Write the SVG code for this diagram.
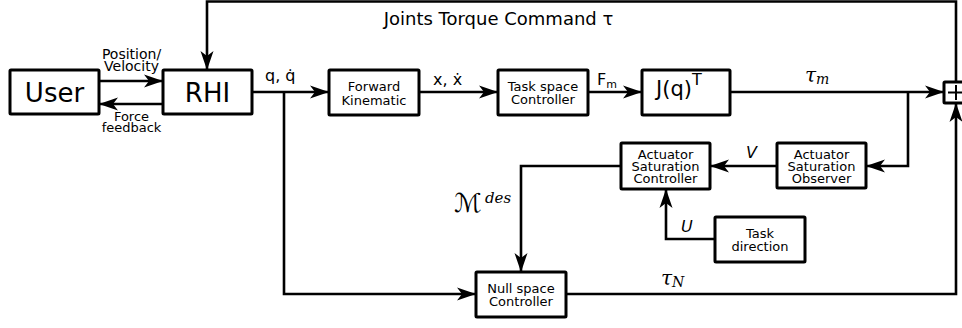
<svg xmlns="http://www.w3.org/2000/svg" width="962" height="328" viewBox="0 0 962 328">
<defs>
<marker id="ah" markerUnits="userSpaceOnUse" markerWidth="20" markerHeight="14" refX="19" refY="6.5" orient="auto" overflow="visible">
<path d="M19,6.5 L0,0 L5,6.5 L0,13 Z" fill="#000"/>
</marker>
<style>
.box{fill:#fff;stroke:#000;stroke-width:3}
.ln{fill:none;stroke:#000;stroke-width:2.6;marker-end:url(#ah)}
.pl{fill:none;stroke:#000;stroke-width:2}
text{font-family:"DejaVu Sans",sans-serif;fill:#000}
.t{font-size:13px;text-anchor:middle}
.big{font-size:26px;text-anchor:middle}
.lab{font-size:16px}
.it{font-style:italic;font-size:16px}
.math{font-family:"DejaVu Serif",serif;font-style:italic}
</style>
</defs>
<rect width="962" height="328" fill="#fff"/>
<g id="connectors">
<path class="ln" d="M956,82 V1.5 H207 V70"/>
<path class="ln" d="M99,81 H163"/>
<path class="ln" d="M163,104 H99"/>
<path class="ln" d="M252,92 H329"/>
<path class="ln" d="M284,92 V294 H476"/>
<path class="ln" d="M419,92 H498"/>
<path class="ln" d="M588,92 H642"/>
<path class="ln" d="M730,92 H944"/>
<path class="ln" d="M908,92 V166 H866"/>
<path class="ln" d="M777,166 H710"/>
<path class="ln" d="M621,166 H521 V272"/>
<path class="ln" d="M715,239 H666 V189"/>
<path class="ln" d="M566,294 H956 V103"/>
</g>
<g id="labels">
<text x="498.5" y="25" style="font-size:18px;text-anchor:middle">Joints Torque Command τ</text>
<text x="131.5" y="59" style="font-size:14px;text-anchor:middle">Position/</text>
<text x="131.5" y="71" style="font-size:14px;text-anchor:middle">Velocity</text>
<text x="131.5" y="121" style="font-size:13px;text-anchor:middle">Force</text>
<text x="131.5" y="132" style="font-size:13px;text-anchor:middle">feedback</text>
<text class="lab" x="265" y="81">q, q̇</text>
<text class="lab" x="433" y="85">x, ẋ</text>
<text class="lab" x="597" y="85">F<tspan style="font-size:11px" dy="3">m</tspan></text>
<text class="math" x="805" y="82" style="font-size:20px">τ<tspan style="font-size:14px" dy="2">m</tspan></text>
<text class="math" x="661" y="285" style="font-size:20px">τ<tspan style="font-size:14px" dy="2">N</tspan></text>
<text class="it" x="746" y="158">V</text>
<text class="it" x="681" y="232">U</text>
<text x="454" y="212" style="font-size:26px;font-family:'DejaVu Sans',sans-serif">ℳ</text>
<text class="math" x="485" y="203" style="font-size:15px">des</text>
</g>
<g id="user"><rect class="box" x="10" y="70" width="89" height="44" rx="1"/><text class="big" x="54.5" y="101.5">User</text></g>
<g id="rhi"><rect class="box" x="163" y="70" width="89" height="44" rx="1"/><text class="big" x="207.5" y="101.5">RHI</text></g>
<g id="forward-kinematic"><rect class="box" x="329" y="70" width="90" height="45" rx="1"/><text class="t" x="374" y="91">Forward</text><text class="t" x="374" y="104.5">Kinematic</text></g>
<g id="task-space-controller"><rect class="box" x="498" y="70" width="90" height="45" rx="1"/><text class="t" x="543" y="90.5">Task space</text><text class="t" x="543" y="103.5">Controller</text></g>
<g id="jacobian"><rect class="box" x="642" y="70" width="88" height="45" rx="1"/><text x="656" y="96" style="font-size:21px">J(q)<tspan style="font-size:16px" dy="-11">T</tspan></text></g>
<g id="summing-junction"><rect class="box" x="944" y="82" width="24" height="21" rx="1"/><path class="pl" d="M948,92.5 H964 M956,85 V100"/></g>
<g id="actuator-saturation-controller"><rect class="box" x="621" y="143" width="89" height="46" rx="1"/><text class="t" x="665.5" y="159">Actuator</text><text class="t" x="665.5" y="171">Saturation</text><text class="t" x="665.5" y="182.5">Controller</text></g>
<g id="actuator-saturation-observer"><rect class="box" x="777" y="143" width="89" height="45" rx="1"/><text class="t" x="821.5" y="159">Actuator</text><text class="t" x="821.5" y="171">Saturation</text><text class="t" x="821.5" y="182.5">Observer</text></g>
<g id="task-direction"><rect class="box" x="715" y="217" width="90" height="45" rx="1"/><text class="t" x="760" y="237.5">Task</text><text class="t" x="760" y="251">direction</text></g>
<g id="null-space-controller"><rect class="box" x="476" y="272" width="90" height="45" rx="1"/><text class="t" x="521" y="293">Null space</text><text class="t" x="521" y="306">Controller</text></g>
</svg>
